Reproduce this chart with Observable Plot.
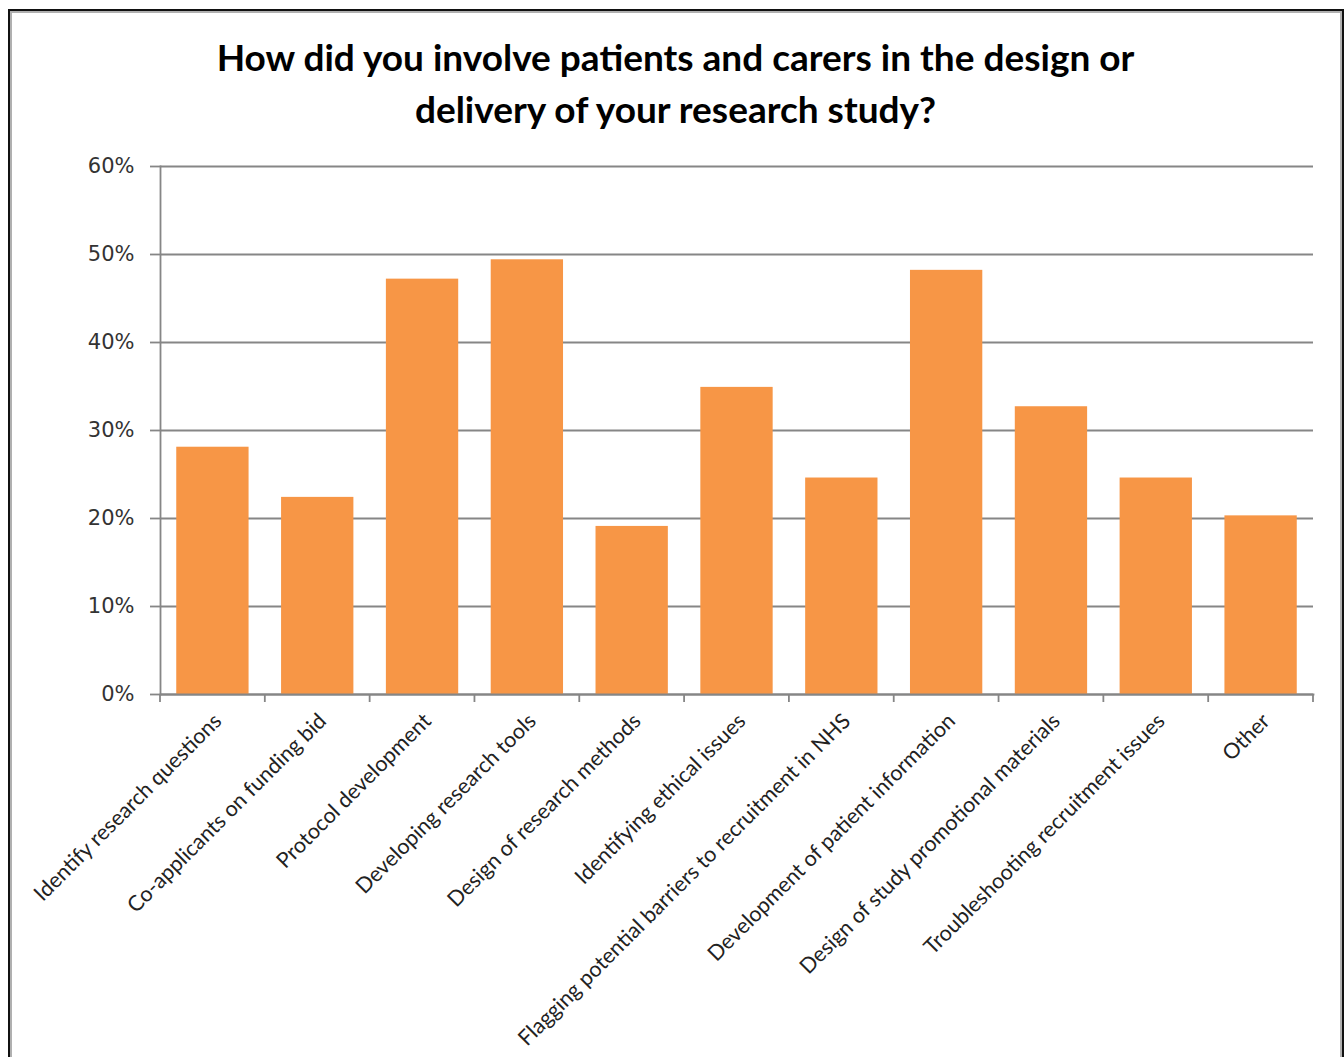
<!DOCTYPE html>
<html>
<head>
<meta charset="utf-8">
<script src="https://cdn.jsdelivr.net/npm/d3@7"></script>
<script src="https://cdn.jsdelivr.net/npm/@observablehq/plot@0.6"></script>
<style>
  html, body { margin: 0; padding: 0; background: #fff; }
  body { width: 1344px; height: 1057px; overflow: hidden; position: relative; }
  #frame { position: absolute; left: 8px; top: 9px; width: 1336px; height: 1100px;
           border: 2px solid #111; box-sizing: border-box; box-shadow: inset 0 0 0 2px #b0b0b0; }
  #title { position: absolute; left: 10px; width: 1331px; top: 31px; text-align: center;
           font-family: Lato, "Liberation Sans", sans-serif; font-weight: bold;
           font-size: 37px; line-height: 52px; color: #000; }
  #chart { position: absolute; left: 0; top: 140px; }
</style>
</head>
<body>
<div id="frame"></div>
<div id="title">How did you involve patients and carers in the design or<br>delivery of your research study?</div>
<div id="chart"></div>
<script>
const categories = [
  "Identify research questions",
  "Co-applicants on funding bid",
  "Protocol development",
  "Developing research tools",
  "Design of research methods",
  "Identifying ethical issues",
  "Flagging potential barriers to recruitment in NHS",
  "Development of patient information",
  "Design of study promotional materials",
  "Troubleshooting recruitment issues",
  "Other"
];
const shares = [0.281, 0.224, 0.472, 0.494, 0.191, 0.349, 0.246, 0.482, 0.327, 0.246, 0.203];
const yTicks = [0, 0.1, 0.2, 0.3, 0.4, 0.5, 0.6];

const data = categories.map((c, i) => ({category: c, share: shares[i]}));
const PAD = 0.31;
const GRID = "#868686";

const boundaryTicks = (index, scales, values, dimensions) => {
  const x = scales.x, bw = x.bandwidth();
  const step = bw / (1 - PAD);
  const y0 = dimensions.height - dimensions.marginBottom;
  const xs = categories.map(c => x(c) - (step - bw) / 2);
  xs.push(x(categories[categories.length - 1]) + bw + (step - bw) / 2);
  const g = d3.create("svg:g").attr("stroke", GRID).attr("stroke-width", 1.8);
  g.selectAll("line").data(xs).join("line")
    .attr("x1", d => d).attr("x2", d => d)
    .attr("y1", y0).attr("y2", y0 + 8);
  return g.node();
};

const chart = Plot.plot({
  width: 1344,
  height: 917,
  marginLeft: 160,
  marginRight: 31,
  marginTop: 26,
  marginBottom: 363,
  style: {background: "transparent", overflow: "visible"},
  x: {domain: categories, paddingInner: PAD, paddingOuter: PAD / 2, round: false, label: null},
  y: {domain: [0, 0.6], label: null},
  marks: [
    Plot.gridY(yTicks, {stroke: GRID, strokeOpacity: 1, strokeWidth: 1.8}),
    Plot.barY(data, {x: "category", y: "share", fill: "#F79646"}),
    Plot.frame({anchor: "left", stroke: GRID, strokeWidth: 1.8}),
    Plot.frame({anchor: "bottom", stroke: GRID, strokeWidth: 1.8}),
    Plot.axisY(yTicks, {tickFormat: d3.format(".0%"), tickSize: 10, tickPadding: 16,
      stroke: GRID, strokeWidth: 1.8, fontSize: 21, fill: "#333",
      fontFamily: "DejaVu Sans", label: null}),
    Plot.axisX({tickSize: 0, tickRotate: -45, tickPadding: 23, dx: 5, fontSize: 21.5,
      fontFamily: "Lato", fill: "#222", label: null}),
    boundaryTicks
  ]
});
document.getElementById("chart").appendChild(chart);
</script>
</body>
</html>
